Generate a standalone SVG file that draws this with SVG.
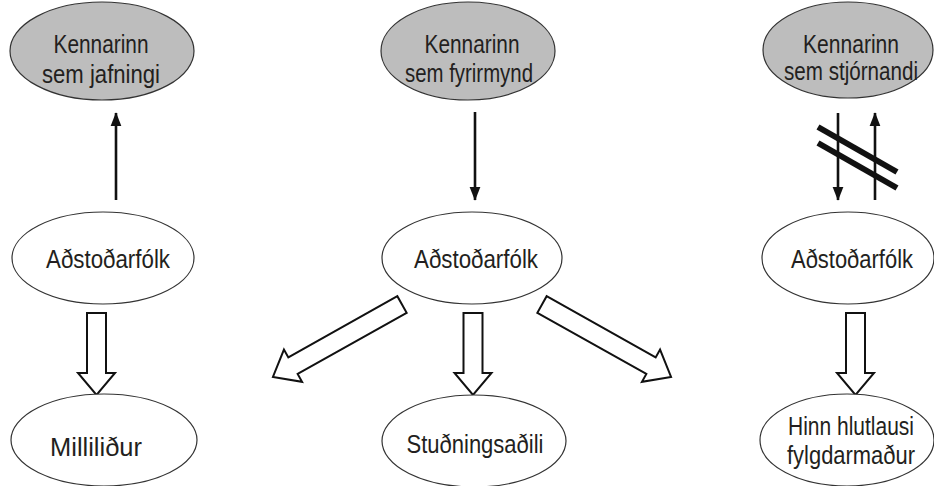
<svg xmlns="http://www.w3.org/2000/svg" width="934" height="486" viewBox="0 0 934 486">
<style>
.top{fill:#bdbdbd;stroke:#333;stroke-width:1.2}
.nd{fill:#fff;stroke:#333;stroke-width:1.2}
text{font-family:"Liberation Sans",Arial,sans-serif;font-size:25px;fill:#231f20;text-anchor:middle}
.thin{stroke:#111;stroke-width:2.6;fill:none;marker-end:url(#ah)}
.hollow{fill:#fff;stroke:#111;stroke-width:2;stroke-linejoin:miter}
.bar{stroke:#111;stroke-width:6}
</style>
<defs>
<marker id="ah" markerUnits="userSpaceOnUse" markerWidth="14" markerHeight="18" refX="17" refY="7" viewBox="0 0 18 14" orient="auto">
<path d="M0,0 L18,7 L0,14 Z" fill="#111"/>
</marker>
<path id="ha82" d="M0,-9.5 L60,-9.5 L60,-18.5 L82,0 L60,18.5 L60,9.5 L0,9.5 Z"/>
<path id="ha148" d="M0,-9.5 L125,-9.5 L125,-18.5 L148,0 L125,18.5 L125,9.5 L0,9.5 Z"/>
</defs>

<g id="connectors">
<line class="thin" x1="116" y1="200" x2="116" y2="113"/>
<line class="thin" x1="475" y1="112" x2="475" y2="200"/>
<line class="thin" x1="838" y1="113" x2="838" y2="200"/>
<line class="thin" x1="875" y1="200" x2="875" y2="113"/>
<line class="bar" x1="818" y1="127" x2="897" y2="172"/>
<line class="bar" x1="818" y1="143" x2="897" y2="188"/>
<use href="#ha82" class="hollow" transform="translate(96.5,313) rotate(90)"/>
<use href="#ha82" class="hollow" transform="translate(473,313) rotate(90)"/>
<use href="#ha82" class="hollow" transform="translate(855.5,313) rotate(90)"/>
<use href="#ha148" class="hollow" transform="translate(402,304.5) rotate(150.7)"/>
<use href="#ha148" class="hollow" transform="translate(542,304.5) rotate(29.3)"/>
</g>

<g id="teacher-peer">
<ellipse class="top" cx="102" cy="51" rx="92" ry="49"/>
<text x="101" y="53" textLength="95" lengthAdjust="spacingAndGlyphs">Kennarinn</text>
<text x="101" y="83" textLength="118" lengthAdjust="spacingAndGlyphs">sem jafningi</text>
</g>
<g id="teacher-model">
<ellipse class="top" cx="468" cy="51" rx="87" ry="49"/>
<text x="472" y="53" textLength="95" lengthAdjust="spacingAndGlyphs">Kennarinn</text>
<text x="469" y="82" textLength="128" lengthAdjust="spacingAndGlyphs">sem fyrirmynd</text>
</g>
<g id="teacher-director">
<ellipse class="top" cx="848" cy="50" rx="85" ry="48"/>
<text x="851" y="53" textLength="96" lengthAdjust="spacingAndGlyphs">Kennarinn</text>
<text x="851" y="80" textLength="134" lengthAdjust="spacingAndGlyphs">sem stjórnandi</text>
</g>

<g id="assist-left">
<ellipse class="nd" cx="103" cy="258" rx="91" ry="46"/>
<text x="108" y="268" textLength="124" lengthAdjust="spacingAndGlyphs">Aðstoðarfólk</text>
</g>
<g id="assist-middle">
<ellipse class="nd" cx="472" cy="258" rx="90" ry="46"/>
<text x="476" y="268" textLength="124" lengthAdjust="spacingAndGlyphs">Aðstoðarfólk</text>
</g>
<g id="assist-right">
<ellipse class="nd" cx="848" cy="258" rx="86" ry="46"/>
<text x="852" y="268" textLength="122" lengthAdjust="spacingAndGlyphs">Aðstoðarfólk</text>
</g>

<g id="intermediary">
<ellipse class="nd" cx="104" cy="440" rx="93" ry="46"/>
<text x="96" y="456" textLength="92" lengthAdjust="spacingAndGlyphs">Milliliður</text>
</g>
<g id="supporter">
<ellipse class="nd" cx="474" cy="441" rx="92" ry="46"/>
<text x="475" y="453" textLength="137" lengthAdjust="spacingAndGlyphs">Stuðningsaðili</text>
</g>
<g id="neutral-escort">
<ellipse class="nd" cx="847" cy="440" rx="87" ry="46"/>
<text x="851" y="435" textLength="126" lengthAdjust="spacingAndGlyphs">Hinn hlutlausi</text>
<text x="851" y="464" textLength="128" lengthAdjust="spacingAndGlyphs">fylgdarmaður</text>
</g>
</svg>
